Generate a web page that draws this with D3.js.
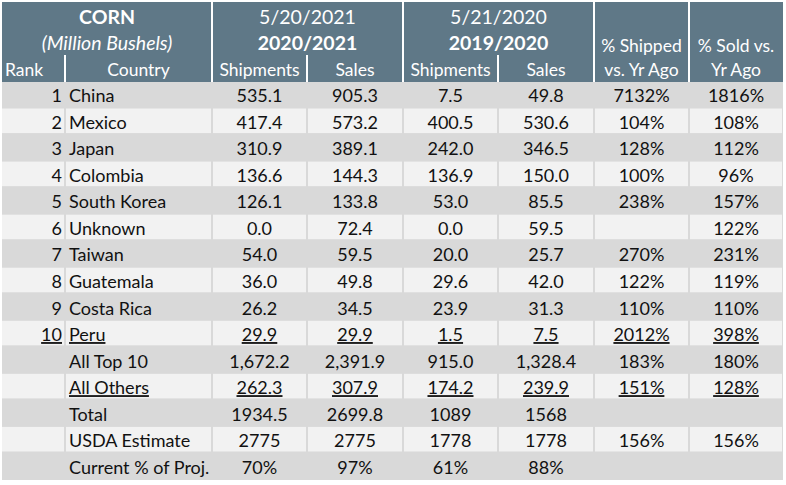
<!DOCTYPE html>
<html>
<head>
<meta charset="utf-8">
<script src="https://cdn.jsdelivr.net/npm/d3@7"></script>
<style>
  body { margin: 0; background: #fff; }
  svg text { font-family: Lato, "Open Sans", sans-serif; }
</style>
</head>
<body>
<div class="chart"></div>
<script>
// table values
const ranks = ["1", "2", "3", "4", "5", "6", "7", "8", "9", "10", "", "", "", "", ""];
const countries = ["China", "Mexico", "Japan", "Colombia", "South Korea", "Unknown", "Taiwan",
    "Guatemala", "Costa Rica", "Peru", "All Top 10", "All Others", "Total", "USDA Estimate", "Current % of Proj."];
const ship2021 = [535.1, 417.4, 310.9, 136.6, 126.1, 0.0, 54.0, 36.0, 26.2, 29.9, 1672.2, 262.3, 1934.5, 2775, 70];
const sales2021 = [905.3, 573.2, 389.1, 144.3, 133.8, 72.4, 59.5, 49.8, 34.5, 29.9, 2391.9, 307.9, 2699.8, 2775, 97];
const ship2020 = [7.5, 400.5, 242.0, 136.9, 53.0, 0.0, 20.0, 29.6, 23.9, 1.5, 915.0, 174.2, 1089, 1778, 61];
const sales2020 = [49.8, 530.6, 346.5, 150.0, 85.5, 59.5, 25.7, 42.0, 31.3, 7.5, 1328.4, 239.9, 1568, 1778, 88];
const pctShipped = [7132, 104, 128, 100, 238, null, 270, 122, 110, 2012, 183, 151, null, 156, null];
const pctSold = [1816, 108, 112, 96, 157, 122, 231, 119, 110, 398, 180, 128, null, 156, null];
// number format per row
const rowFormats = [".1f", ".1f", ".1f", ".1f", ".1f", ".1f", ".1f", ".1f", ".1f", ".1f", ",.1f", ".1f", "", "d", "pct"];
const underlined = ["Peru", "All Others"];

const headerGroups = [
    { lines: ["CORN", "(Million Bushels)"], styles: ["bold", "italic"], from: 0, to: 2 },
    { lines: ["5/20/2021", "2020/2021"], styles: ["normal", "bold"], from: 2, to: 4 },
    { lines: ["5/21/2020", "2019/2020"], styles: ["normal", "bold"], from: 4, to: 6 }
];
const columnHeaders = ["Rank", "Country", "Shipments", "Sales", "Shipments", "Sales",
    ["% Shipped", "vs. Yr Ago"], ["% Sold vs.", "Yr Ago"]];

const width = 786, height = 485;
const edges = [2, 65, 212, 307, 403, 498, 594, 689, 783];
const headTop = 2, headBottom = 82, bodyBottom = 480;
const headColor = "#5f7887";
const greyRow = "#d9d9d9", lightRow = "#f2f2f2";

const svg = d3.select(".chart").append("svg")
    .attr("width", width)
    .attr("height", height);

const y = d3.scaleBand()
    .domain(d3.range(countries.length))
    .range([headBottom, bodyBottom]);

const colX = i => edges[i];
const colMid = i => (edges[i] + edges[i + 1]) / 2;

// header background
svg.append("rect")
    .attr("x", edges[0]).attr("y", headTop)
    .attr("width", edges[8] - edges[0]).attr("height", headBottom - headTop)
    .attr("fill", headColor);

// full height separators in header
[2, 4, 6, 7].forEach(i => {
    svg.append("rect")
        .attr("x", colX(i) - 1).attr("y", headTop)
        .attr("width", 2).attr("height", headBottom - headTop)
        .attr("fill", "#fff");
});
// short separators in header
[1, 3, 5].forEach(i => {
    svg.append("rect")
        .attr("x", colX(i) - 1).attr("y", 55)
        .attr("width", 2).attr("height", headBottom - 55)
        .attr("fill", "#fff");
});

const fs = 17.5, fsBody = 18, fsGroup = 19.5;

headerGroups.forEach(g => {
    const cx = (edges[g.from] + edges[g.to]) / 2;
    g.lines.forEach((t, j) => {
        svg.append("text")
            .attr("x", cx).attr("y", 24 + j * 26)
            .attr("text-anchor", "middle")
            .attr("fill", "#fff")
            .attr("font-size", fsGroup)
            .attr("font-weight", g.styles[j] === "bold" ? "bold" : "normal")
            .attr("font-style", g.styles[j] === "italic" ? "italic" : "normal")
            .text(t);
    });
});

columnHeaders.forEach((h, i) => {
    const lines = Array.isArray(h) ? h : [h];
    lines.forEach((t, j) => {
        svg.append("text")
            .attr("x", i === 0 ? colX(0) + 3 : colMid(i))
            .attr("y", 76 - (lines.length - 1 - j) * 24)
            .attr("text-anchor", i === 0 ? "start" : "middle")
            .attr("fill", "#fff")
            .attr("font-size", fs)
            .text(t);
    });
});

// body background
svg.append("rect")
    .attr("x", edges[0]).attr("y", headBottom)
    .attr("width", edges[8] - edges[0]).attr("height", bodyBottom - headBottom)
    .attr("fill", greyRow);

const fmt = (v, f) => {
    if (v === null || v === undefined) return "";
    if (f === "pct") return v + "%";
    if (f === "") return String(v);
    return d3.format(f)(v);
};

const rows = countries.map((c, i) => ({
    i,
    cells: [
        ranks[i], c,
        fmt(ship2021[i], rowFormats[i]), fmt(sales2021[i], rowFormats[i]),
        fmt(ship2020[i], rowFormats[i]), fmt(sales2020[i], rowFormats[i]),
        pctShipped[i] === null ? "" : pctShipped[i] + "%",
        pctSold[i] === null ? "" : pctSold[i] + "%"
    ],
    under: underlined.includes(c)
}));

const rowG = svg.selectAll(".row")
    .data(rows)
    .join("g")
    .attr("class", "row")
    .attr("transform", d => `translate(0,${y(d.i)})`);

// light rows
rowG.filter(d => d.i % 2 === 1)
    .selectAll("rect")
    .data(d3.range(8))
    .join("rect")
    .attr("x", i => colX(i) + (i === 0 ? 0 : 1))
    .attr("y", 0)
    .attr("width", i => colX(i + 1) - colX(i) - (i === 0 ? 1 : 2))
    .attr("height", y.bandwidth() - 2)
    .attr("fill", lightRow);

rowG.each(function (d) {
    const g = d3.select(this);
    d.cells.forEach((t, i) => {
        if (!t) return;
        const anchor = i === 0 ? "end" : i === 1 ? "start" : "middle";
        const x = i === 0 ? colX(1) - 3 : i === 1 ? colX(1) + 4 : colMid(i);
        const txt = g.append("text")
            .attr("x", x)
            .attr("y", y.bandwidth() / 2 + 7)
            .attr("text-anchor", anchor)
            .attr("fill", "#111")
            .attr("font-size", fsBody)
            .text(t);
        if (d.under) txt.attr("text-decoration", "underline");
    });
});
</script>
</body>
</html>
